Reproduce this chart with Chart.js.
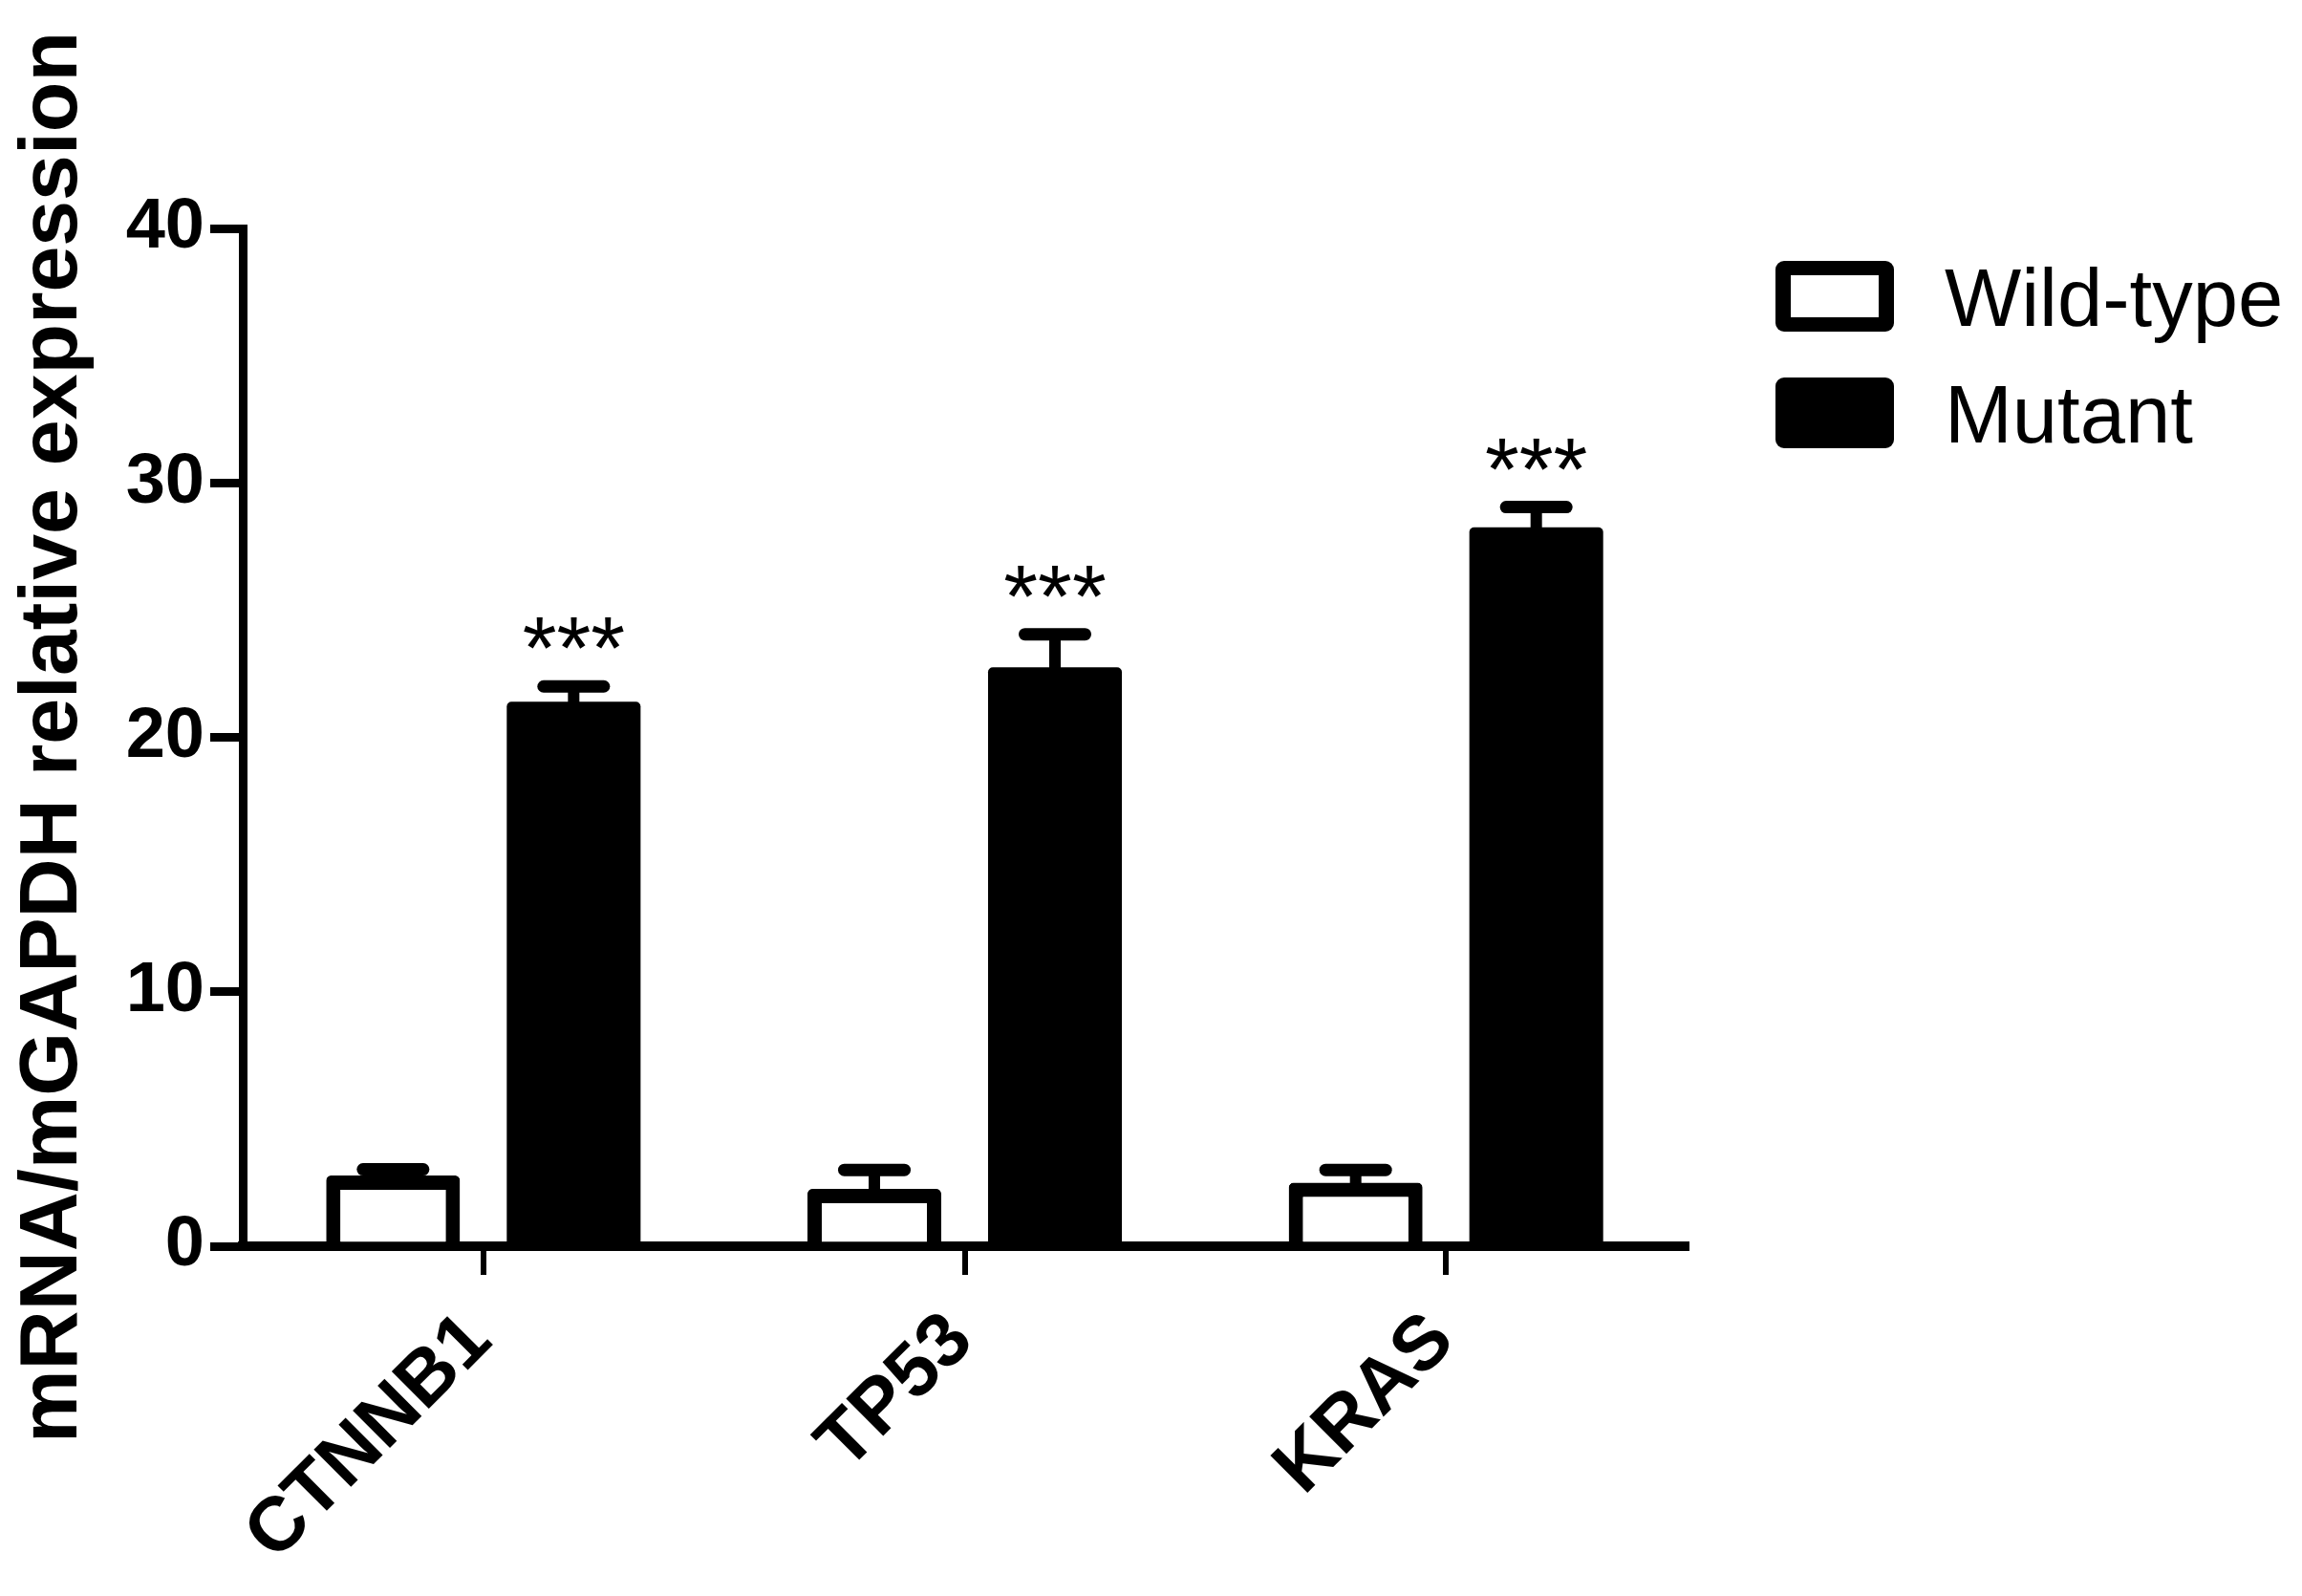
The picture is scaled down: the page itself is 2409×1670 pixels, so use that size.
<!DOCTYPE html>
<html>
<head>
<meta charset="utf-8">
<script src="https://cdn.jsdelivr.net/npm/chart.js@4.4.1/dist/chart.umd.min.js"></script>
<style>
  html, body { margin: 0; padding: 0; background: #fff; }
  #wrap { width: 2409px; height: 1670px; }
</style>
</head>
<body>
<div id="wrap"><canvas id="chart" width="2409" height="1670"></canvas></div>
<script>
// mRNA expression, wild-type vs mutant
const genes = ['CTNNB1', 'TP53', 'KRAS'];
const seriesNames = ['Wild-type', 'Mutant'];
const wildType = [2.78, 2.25, 2.5];
const wildTypeTop = [3.02, 3.0, 3.0];     // upper end of error bar
const mutant = [21.4, 22.75, 28.25];
const mutantTop = [22.0, 24.05, 29.05];
const significance = ['***', '***', '***'];
const yTicks = [0, 10, 20, 30, 40];

const FONT = 'Liberation Sans, Arial, sans-serif';

// Error bars (upper only), drawn from the bar scale
const errorBars = {
  id: 'errorBars',
  afterDatasetsDraw(chart) {
    const ctx = chart.ctx;
    const y = chart.scales.y;
    const tops = [wildTypeTop, mutantTop];
    chart.data.datasets.forEach((ds, di) => {
      const meta = chart.getDatasetMeta(di);
      meta.data.forEach((bar, i) => {
        const yTop = y.getPixelForValue(tops[di][i]);
        const half = bar.width * 0.225;
        ctx.save();
        ctx.strokeStyle = '#000';
        ctx.lineWidth = 12;
        ctx.lineCap = 'butt';
        ctx.beginPath();
        ctx.moveTo(bar.x, bar.y + 4);
        ctx.lineTo(bar.x, yTop);
        ctx.stroke();
        ctx.lineWidth = 13;
        ctx.lineCap = 'round';
        ctx.beginPath();
        ctx.moveTo(bar.x - half, yTop);
        ctx.lineTo(bar.x + half, yTop);
        ctx.stroke();
        ctx.restore();
      });
    });
  }
};

// Significance stars above the mutant bars
const stars = {
  id: 'stars',
  afterDatasetsDraw(chart) {
    const ctx = chart.ctx;
    const y = chart.scales.y;
    const meta = chart.getDatasetMeta(1);
    ctx.save();
    ctx.fillStyle = '#000';
    ctx.font = '92px ' + FONT;
    ctx.textAlign = 'center';
    ctx.textBaseline = 'alphabetic';
    meta.data.forEach((bar, i) => {
      ctx.fillText(significance[i], bar.x, y.getPixelForValue(mutantTop[i]) - 8);
    });
    ctx.restore();
  }
};

function roundedRect(ctx, x, y, w, h, r) {
  ctx.beginPath();
  ctx.moveTo(x + r, y);
  ctx.arcTo(x + w, y, x + w, y + h, r);
  ctx.arcTo(x + w, y + h, x, y + h, r);
  ctx.arcTo(x, y + h, x, y, r);
  ctx.arcTo(x, y, x + w, y, r);
  ctx.closePath();
}

// Legend on the right
const legendBoxes = {
  id: 'legendBoxes',
  afterDraw(chart) {
    const ctx = chart.ctx;
    chart.data.datasets.forEach((ds, i) => {
      const x = 1858, top = 273 + i * 122, w = 124, h = 74;
      ctx.save();
      ctx.fillStyle = ds.borderColor;
      roundedRect(ctx, x, top, w, h, 9);
      ctx.fill();
      if (ds.borderWidth > 0) {
        ctx.fillStyle = ds.backgroundColor;
        ctx.fillRect(x + 16, top + 15, w - 32, h - 30);
      }
      ctx.fillStyle = '#000';
      ctx.font = '85px ' + FONT;
      ctx.textAlign = 'left';
      ctx.textBaseline = 'alphabetic';
      ctx.fillText(ds.label, 2035, top + h / 2 + 31);
      ctx.restore();
    });
  }
};

new Chart(document.getElementById('chart'), {
  type: 'bar',
  data: {
    labels: genes,
    datasets: [
      {
        label: seriesNames[0],
        data: wildType,
        backgroundColor: '#ffffff',
        borderColor: '#000000',
        borderWidth: 15,
        borderSkipped: 'start',
        borderRadius: 5,
        categoryPercentage: 0.7505,
        barPercentage: 0.741
      },
      {
        label: seriesNames[1],
        data: mutant,
        backgroundColor: '#000000',
        borderColor: '#000000',
        borderWidth: 0,
        borderSkipped: 'start',
        borderRadius: 5,
        categoryPercentage: 0.7505,
        barPercentage: 0.741
      }
    ]
  },
  options: {
    responsive: false,
    animation: false,
    devicePixelRatio: 1,
    layout: { padding: { left: 0, top: 239, right: 644, bottom: 0 } },
    plugins: {
      legend: { display: false },
      tooltip: { enabled: false }
    },
    scales: {
      x: {
        grid: { drawOnChartArea: false, offset: false, tickLength: 30, lineWidth: 6, color: '#000' },
        border: { color: '#000', width: 10 },
        ticks: {
          color: '#000',
          font: { family: FONT, size: 80, weight: 'bold' },
          minRotation: 45,
          maxRotation: 45,
          padding: 22,
          labelOffset: -4
        },
        afterFit(scale) { scale.height = 366; }
      },
      y: {
        min: 0,
        max: 40,
        afterBuildTicks(scale) { scale.ticks = yTicks.map(v => ({ value: v })); },
        grid: { drawOnChartArea: false, tickLength: 34, lineWidth: 9, color: '#000' },
        border: { color: '#000', width: 9 },
        ticks: {
          color: '#000',
          padding: 6,
          font: { family: FONT, size: 74, weight: 'bold' }
        },
        title: {
          display: true,
          text: 'mRNA/mGAPDH relative expression',
          color: '#000',
          font: { family: FONT, size: 86, weight: 'bold', lineHeight: 1.2 },
          padding: { top: 5, bottom: 0 }
        },
        afterFit(scale) { scale.width = 254; }
      }
    }
  },
  plugins: [errorBars, stars, legendBoxes]
});
</script>
</body>
</html>
